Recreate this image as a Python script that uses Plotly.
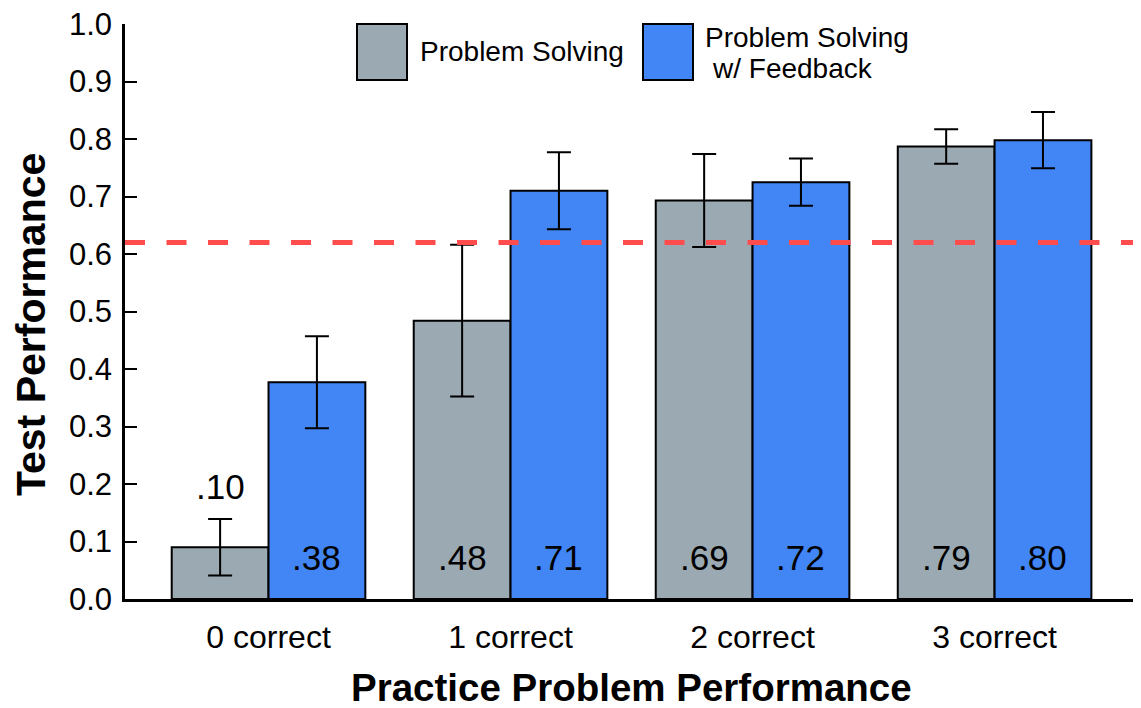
import plotly.graph_objects as go

# ---- data ----
categories = ["0 correct", "1 correct", "2 correct", "3 correct"]
series_names = ["Problem Solving", "Problem Solving<br> w/ Feedback"]
ps_values = [0.09, 0.484, 0.693, 0.787]
ps_errors = [0.049, 0.132, 0.081, 0.030]
ps_labels = [".10", ".48", ".69", ".79"]
psf_values = [0.377, 0.710, 0.725, 0.798]
psf_errors = [0.080, 0.067, 0.041, 0.049]
psf_labels = [".38", ".71", ".72", ".80"]
reference_line = 0.62
y_ticks = [round(i * 0.1, 1) for i in range(11)]

# ---- style ----
FONT = "Liberation Sans, Arial, Helvetica, sans-serif"
GRAY = "#9aa9b2"
BLUE = "#4285f4"
RED = "#ff4d4d"
PAGE_OFF = 8  # default body margin of the html page
W, H = 1141 - PAGE_OFF, 708 - PAGE_OFF
# target plot box in page pixels: x 125..1141, y 24..599
L = 125 - PAGE_OFF
T = 24 - PAGE_OFF
R = 0
B = H - (599 - PAGE_OFF)
pw, ph = W - L - R, H - T - B

xs = list(range(len(categories)))

def px_to_paper_x(px):
    return (px - PAGE_OFF - L) / pw

def px_to_paper_y(py):
    return (H - B - (py - PAGE_OFF)) / ph

fig = go.Figure()
fig.add_trace(go.Bar(
    x=xs, y=ps_values, name=series_names[0],
    marker=dict(color=GRAY, line=dict(color="black", width=2)),
    error_y=dict(type="data", array=ps_errors, color="black", thickness=2, width=12),
    showlegend=False,
))
fig.add_trace(go.Bar(
    x=xs, y=psf_values, name=series_names[1],
    marker=dict(color=BLUE, line=dict(color="black", width=2)),
    error_y=dict(type="data", array=psf_errors, color="black", thickness=2, width=12),
    showlegend=False,
))

annotations = []
offset = 0.2
for i in xs:
    for vals, errs, labs, sgn in ((ps_values, ps_errors, ps_labels, -1),
                                  (psf_values, psf_errors, psf_labels, 1)):
        v = vals[i]
        if v < 0.2:
            ylab = v + errs[i] + 0.056
        else:
            ylab = 0.073
        annotations.append(dict(
            x=i + sgn * offset, y=ylab, xref="x", yref="y", text=labs[i],
            showarrow=False, font=dict(family=FONT, size=35, color="black"),
            xanchor="center", yanchor="middle"))

# axis titles
annotations.append(dict(
    x=px_to_paper_x(31), y=px_to_paper_y(325), xref="paper", yref="paper",
    text="<b>Test Performance</b>", textangle=-90, showarrow=False,
    font=dict(family=FONT, size=41, color="black"), xanchor="center", yanchor="middle"))
annotations.append(dict(
    x=px_to_paper_x(631), y=px_to_paper_y(687), xref="paper", yref="paper",
    text="<b>Practice Problem Performance</b>", showarrow=False,
    font=dict(family=FONT, size=38.5, color="black"), xanchor="center", yanchor="middle"))

# manual legend
shapes = []
legend_boxes = [(357, 407, GRAY), (643, 693, BLUE)]
for x0, x1, col in legend_boxes:
    shapes.append(dict(type="rect", xref="paper", yref="paper",
                       x0=px_to_paper_x(x0), x1=px_to_paper_x(x1),
                       y0=px_to_paper_y(80), y1=px_to_paper_y(24),
                       fillcolor=col, line=dict(color="black", width=2)))
annotations.append(dict(
    x=px_to_paper_x(418), y=px_to_paper_y(52), xref="paper", yref="paper",
    text=series_names[0], showarrow=False, font=dict(family=FONT, size=28, color="black"),
    xanchor="left", yanchor="middle"))
line1, line2 = series_names[1].split("<br>")
annotations.append(dict(
    x=px_to_paper_x(703), y=px_to_paper_y(37), xref="paper", yref="paper",
    text=line1, showarrow=False, font=dict(family=FONT, size=28, color="black"),
    xanchor="left", yanchor="middle"))
annotations.append(dict(
    x=px_to_paper_x(710), y=px_to_paper_y(68), xref="paper", yref="paper",
    text=line2.strip(), showarrow=False, font=dict(family=FONT, size=28, color="black"),
    xanchor="left", yanchor="middle"))

# reference dashed line
shapes.append(dict(type="line", xref="paper", yref="y", x0=0, x1=1,
                   y0=reference_line, y1=reference_line,
                   line=dict(color=RED, width=5, dash="20px,21.5px"), layer="above"))

fig.update_layout(
    width=W, height=H,
    margin=dict(l=L, r=R, t=T, b=B, pad=0),
    paper_bgcolor="white", plot_bgcolor="white",
    barmode="group", bargap=0.2, bargroupgap=0,
    font=dict(family=FONT, color="black"),
    annotations=annotations, shapes=shapes,
    showlegend=False,
)
fig.update_xaxes(
    range=[-0.593, 3.605], tickvals=xs, ticktext=categories,
    showline=True, linecolor="black", linewidth=2.5, ticks="",
    showgrid=False, zeroline=False, tickfont=dict(family=FONT, size=32, color="black"),
    ticklabelstandoff=8, ticklabeloverflow="allow",
)
fig.update_yaxes(
    range=[0, 1.0], tickvals=y_ticks, tickformat=".1f",
    showline=True, linecolor="black", linewidth=2.5,
    ticks="inside", ticklen=12, tickwidth=2, tickcolor="black",
    showgrid=False, zeroline=False, tickfont=dict(family=FONT, size=31, color="black"),
    ticklabelstandoff=4, ticklabeloverflow="allow",
)

fig.write_html("out.html")
